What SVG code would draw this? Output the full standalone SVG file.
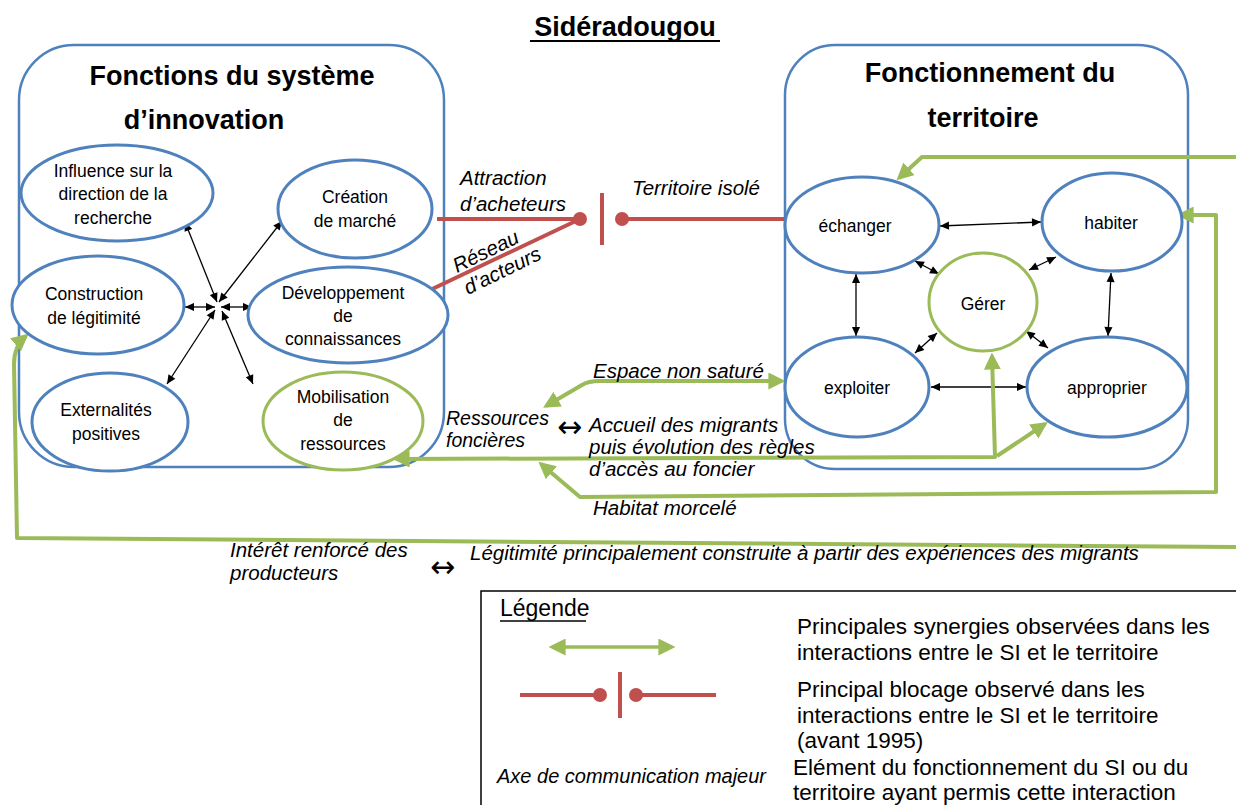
<svg xmlns="http://www.w3.org/2000/svg" width="1236" height="805" viewBox="0 0 1236 805">
<style>
text{font-family:"Liberation Sans",Arial,sans-serif;fill:#000}
.t{font-size:17.5px;text-anchor:middle}
.h{font-size:27px;font-weight:bold;text-anchor:middle}
.i{font-size:20.5px;font-style:italic}
.ar{font-family:"DejaVu Sans",sans-serif;font-size:30px}
.lg{font-size:22.5px}
.panel{fill:none;stroke:#4F81BD;stroke-width:2.5}
.eb{fill:#fff;stroke:#4F81BD;stroke-width:3}
.eg{fill:#fff;stroke:#9BBB59;stroke-width:3}
.bk{fill:none;stroke:#000;stroke-width:1.3;marker-start:url(#ab);marker-end:url(#ab)}
.gr{fill:none;stroke:#9BBB59;stroke-width:4;stroke-linejoin:round}
.rd{fill:none;stroke:#C0504D;stroke-width:4}
</style>
<defs>
<marker id="ab" viewBox="0 0 10 10" refX="10" refY="5" markerWidth="10" markerHeight="9" markerUnits="userSpaceOnUse" orient="auto-start-reverse"><path d="M0,0.5 L10,5 L0,9.5 z" fill="#000"/></marker>
<marker id="ag" viewBox="0 0 10 10" refX="8" refY="5" markerWidth="17" markerHeight="17" markerUnits="userSpaceOnUse" orient="auto-start-reverse"><path d="M0,0 L10,5 L0,10 z" fill="#9BBB59"/></marker>
</defs>
<rect width="1236" height="805" fill="#fff"/>

<g id="title">
<text x="625" y="36" style="font-size:27px;font-weight:bold;text-anchor:middle">Sidéradougou</text>
<line x1="530" y1="41" x2="720" y2="41" stroke="#000" stroke-width="2"/>
</g>

<g id="panel-si">
<rect class="panel" x="19" y="45" width="425" height="422" rx="55"/>
<text class="h" x="232" y="85">Fonctions du système</text>
<text class="h" x="204" y="129">d’innovation</text>
</g>
<g id="panel-territoire">
<rect class="panel" x="785" y="45" width="403" height="424" rx="50"/>
<text class="h" x="990" y="82">Fonctionnement du</text>
<text class="h" x="983" y="127">territoire</text>
</g>

<g id="connectors">
<line class="bk" x1="217" y1="302" x2="185" y2="222"/>
<line class="bk" x1="219" y1="302" x2="282" y2="221"/>
<line class="bk" x1="215" y1="307" x2="185" y2="307"/>
<line class="bk" x1="221" y1="307" x2="252" y2="307"/>
<line class="bk" x1="215" y1="310" x2="167" y2="384"/>
<line class="bk" x1="222" y1="311" x2="253" y2="384"/>

<line class="bk" x1="940" y1="226" x2="1041" y2="222"/>
<line class="bk" x1="856" y1="274" x2="856" y2="336"/>
<line class="bk" x1="1111" y1="273" x2="1108" y2="336"/>
<line class="bk" x1="915" y1="261" x2="939" y2="274"/>
<line class="bk" x1="1029" y1="270" x2="1056" y2="257"/>
<line class="bk" x1="915" y1="353" x2="937" y2="333"/>
<line class="bk" x1="1026" y1="331" x2="1048" y2="348"/>
<line class="bk" x1="931" y1="387" x2="1026" y2="387"/>

<line class="rd" x1="437" y1="219" x2="580" y2="219"/>
<line class="rd" x1="428" y1="291" x2="580" y2="219"/>
<circle cx="580" cy="219" r="7" fill="#C0504D"/>
<line class="rd" x1="602" y1="193" x2="602" y2="245"/>
<circle cx="622" cy="219" r="7" fill="#C0504D"/>
<line class="rd" x1="622" y1="219" x2="785" y2="219"/>

<path class="gr" d="M1236,157 L922,157 L899,178" marker-end="url(#ag)"/>
<path class="gr" d="M1180,215 L1216,215 L1216,492 L580,497 L541,464" marker-start="url(#ag)" marker-end="url(#ag)"/>
<path class="gr" d="M1236,547 L17,538 L14,364 Q14,346 26,336" marker-end="url(#ag)"/>
<path class="gr" d="M992,356 L995,457 L396,459" marker-start="url(#ag)" marker-end="url(#ag)"/>
<path class="gr" d="M997,456 L1045,424" marker-end="url(#ag)"/>
<path class="gr" d="M546,406 L582,385 Q588,381 600,381 L782,381" marker-start="url(#ag)" marker-end="url(#ag)"/>
</g>

<g id="n-influence"><ellipse class="eb" cx="117" cy="193" rx="96" ry="48"/>
<text class="t" x="113" y="177">Influence sur la</text><text class="t" x="113" y="200">direction de la</text><text class="t" x="113" y="224">recherche</text></g>
<g id="n-creation"><ellipse class="eb" cx="355" cy="209" rx="77" ry="49"/>
<text class="t" x="355" y="203">Création</text><text class="t" x="355" y="227">de marché</text></g>
<g id="n-construction"><ellipse class="eb" cx="98" cy="305" rx="86" ry="49"/>
<text class="t" x="94" y="300">Construction</text><text class="t" x="94" y="324">de légitimité</text></g>
<g id="n-developpement"><ellipse class="eb" cx="348" cy="315" rx="100" ry="48"/>
<text class="t" x="343" y="299">Développement</text><text class="t" x="343" y="322">de</text><text class="t" x="343" y="345">connaissances</text></g>
<g id="n-externalites"><ellipse class="eb" cx="110" cy="422" rx="78" ry="49"/>
<text class="t" x="106" y="416">Externalités</text><text class="t" x="106" y="440">positives</text></g>
<g id="n-mobilisation"><ellipse class="eg" cx="343" cy="421" rx="80" ry="49"/>
<text class="t" x="343" y="403">Mobilisation</text><text class="t" x="343" y="426">de</text><text class="t" x="343" y="450">ressources</text></g>

<g id="n-echanger"><ellipse class="eb" cx="862" cy="225" rx="77" ry="48"/><text class="t" x="855" y="232">échanger</text></g>
<g id="n-habiter"><ellipse class="eb" cx="1112" cy="222" rx="70" ry="49"/><text class="t" x="1111" y="229">habiter</text></g>
<g id="n-gerer"><ellipse class="eg" cx="983" cy="302" rx="54" ry="49"/><text class="t" x="983" y="310">Gérer</text></g>
<g id="n-exploiter"><ellipse class="eb" cx="857" cy="387" rx="72" ry="50"/><text class="t" x="857" y="394">exploiter</text></g>
<g id="n-approprier"><ellipse class="eb" cx="1107" cy="387" rx="80" ry="50"/><text class="t" x="1107" y="394">approprier</text></g>

<g id="labels">
<text class="i" x="460" y="185">Attraction</text>
<text class="i" x="460" y="211">d’acheteurs</text>
<text class="i" x="632" y="195">Territoire isolé</text>
<text class="i" transform="translate(457,273) rotate(-26)">Réseau</text>
<text class="i" transform="translate(468,295) rotate(-26)">d’acteurs</text>
<text class="i" x="593" y="378">Espace non saturé</text>
<text class="i" x="446" y="425" style="font-size:19.5px">Ressources</text>
<text class="i" x="446" y="447" style="font-size:19.5px">foncières</text>
<text class="ar" x="557" y="437">↔</text>
<text class="i" x="589" y="432">Accueil des migrants</text>
<text class="i" x="589" y="454">puis évolution des règles</text>
<text class="i" x="589" y="476">d’accès au foncier</text>
<text class="i" x="593" y="515">Habitat morcelé</text>
<text class="i" x="230" y="557">Intérêt renforcé des</text>
<text class="i" x="230" y="580">producteurs</text>
<text class="ar" x="430" y="577">↔</text>
<text class="i" x="470" y="560">Légitimité principalement construite à partir des expériences des migrants</text>
</g>

<g id="legend">
<rect x="481" y="591" width="760" height="220" fill="none" stroke="#000" stroke-width="1.5"/>
<text x="500" y="616" style="font-size:23px">Légende</text>
<line x1="500" y1="621" x2="586" y2="621" stroke="#000" stroke-width="1.3"/>
<path class="gr" d="M552,647 L672,647" marker-start="url(#ag)" marker-end="url(#ag)" style="stroke-width:3.5"/>
<line class="rd" x1="520" y1="695" x2="600" y2="695"/>
<circle cx="600" cy="695" r="7" fill="#C0504D"/>
<line class="rd" x1="620" y1="672" x2="620" y2="718"/>
<circle cx="636" cy="695" r="7" fill="#C0504D"/>
<line class="rd" x1="636" y1="695" x2="716" y2="695"/>
<text class="lg" x="797" y="634">Principales synergies observées dans les</text>
<text class="lg" x="797" y="660">interactions entre le SI et le territoire</text>
<text class="lg" x="797" y="697">Principal blocage observé dans les</text>
<text class="lg" x="797" y="723">interactions entre le SI et le territoire</text>
<text class="lg" x="797" y="748">(avant 1995)</text>
<text class="lg" x="793" y="775">Elément du fonctionnement  du SI ou du</text>
<text class="lg" x="793" y="800">territoire ayant  permis cette interaction</text>
<text x="497" y="783" style="font-size:20px;font-style:italic">Axe de communication majeur</text>
</g>
</svg>
